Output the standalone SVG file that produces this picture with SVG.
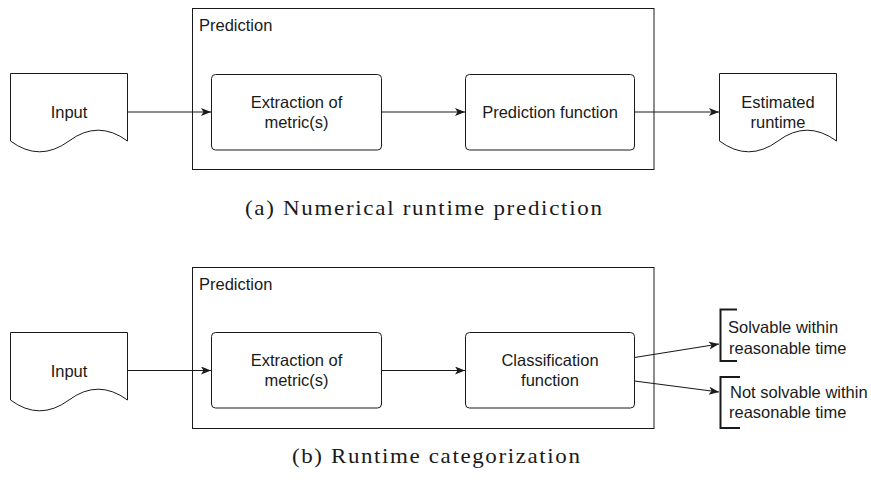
<svg xmlns="http://www.w3.org/2000/svg" width="871" height="482" viewBox="0 0 871 482">
<style>
.box{fill:#fff;stroke:#1a1a1a;stroke-width:1}
.doc{fill:#fff;stroke:#1a1a1a;stroke-width:1}
.lbl{font-family:"Liberation Sans",Arial,sans-serif;font-size:16.5px;fill:#1a1a1a}
.c{text-anchor:middle}
.cap{font-family:"Liberation Serif","Times New Roman",serif;font-size:20px;fill:#1a1a1a}
.edge{fill:none;stroke:#1a1a1a;stroke-width:1.1}
.br{fill:none;stroke:#1a1a1a;stroke-width:2}
</style>
<defs>
<marker id="ah" markerUnits="userSpaceOnUse" markerWidth="12" markerHeight="10" refX="10" refY="4" orient="auto">
<path d="M0,0 L10,4 L0,8 L2.5,4 Z" fill="#1a1a1a"/>
</marker>
</defs>
<rect width="871" height="482" fill="#fff"/>

<!-- (a) -->
<g id="a_prediction">
<rect class="box" x="192.5" y="8.5" width="461.5" height="161"/>
<text class="lbl" x="199" y="31">Prediction</text>
</g>
<g id="a_input">
<path class="doc" d="M10.5,73.5 L127.5,73.5 L127.5,141 Q98,119.4 69,141 Q39.5,162.6 10.5,141 Z"/>
<text class="lbl c" x="69" y="118">Input</text>
</g>
<g id="a_extract">
<rect class="box" x="211.5" y="74.5" width="170" height="75.5" rx="4"/>
<text class="lbl c" x="296.5" y="108">Extraction of</text>
<text class="lbl c" x="296.5" y="128">metric(s)</text>
</g>
<g id="a_func">
<rect class="box" x="465.5" y="74.5" width="169" height="75.5" rx="4"/>
<text class="lbl c" x="550" y="118">Prediction function</text>
</g>
<g id="a_output">
<path class="doc" d="M719.5,73.5 L836.5,73.5 L836.5,141 Q807,119.4 778,141 Q748.5,162.6 719.5,141 Z"/>
<text class="lbl c" x="778" y="108">Estimated</text>
<text class="lbl c" x="778" y="128">runtime</text>
</g>

<!-- (b) -->
<g id="b_prediction">
<rect class="box" x="192.5" y="267.5" width="461.5" height="161"/>
<text class="lbl" x="199" y="290">Prediction</text>
</g>
<g id="b_input">
<path class="doc" d="M10.5,332.5 L127.5,332.5 L127.5,400 Q98,378.4 69,400 Q39.5,421.6 10.5,400 Z"/>
<text class="lbl c" x="69" y="377">Input</text>
</g>
<g id="b_extract">
<rect class="box" x="211.5" y="332.5" width="170" height="75.5" rx="4"/>
<text class="lbl c" x="296.5" y="366">Extraction of</text>
<text class="lbl c" x="296.5" y="386">metric(s)</text>
</g>
<g id="b_func">
<rect class="box" x="465.5" y="332.5" width="169" height="75.5" rx="4"/>
<text class="lbl c" x="550" y="366">Classification</text>
<text class="lbl c" x="550" y="386">function</text>
</g>
<g id="b_out1">
<path class="br" d="M737,309.5 L720.5,309.5 L720.5,361 L737,361"/>
<text class="lbl" x="728" y="332.5">Solvable within</text>
<text class="lbl" x="729" y="353.5">reasonable time</text>
</g>
<g id="b_out2">
<path class="br" d="M740,377 L720.5,377 L720.5,428 L740,428"/>
<text class="lbl" x="730" y="398">Not solvable within</text>
<text class="lbl" x="729" y="418">reasonable time</text>
</g>

<g id="connectors">
<line class="edge" x1="127.5" y1="112" x2="211" y2="112" marker-end="url(#ah)"/>
<line class="edge" x1="381.5" y1="112" x2="465" y2="112" marker-end="url(#ah)"/>
<line class="edge" x1="634.5" y1="112" x2="719" y2="112" marker-end="url(#ah)"/>
<line class="edge" x1="127.5" y1="370.5" x2="211" y2="370.5" marker-end="url(#ah)"/>
<line class="edge" x1="381.5" y1="370.5" x2="465" y2="370.5" marker-end="url(#ah)"/>
<line class="edge" x1="634.5" y1="357.5" x2="719" y2="344" marker-end="url(#ah)"/>
<line class="edge" x1="634.5" y1="381" x2="719" y2="392" marker-end="url(#ah)"/>
</g>

<g transform="scale(1.15,1)">
<text class="cap" x="213" y="215" textLength="310.4" lengthAdjust="spacing">(a) Numerical runtime prediction</text>
<text class="cap" x="253.9" y="463" textLength="250.4" lengthAdjust="spacing">(b) Runtime categorization</text>
</g>
</svg>
